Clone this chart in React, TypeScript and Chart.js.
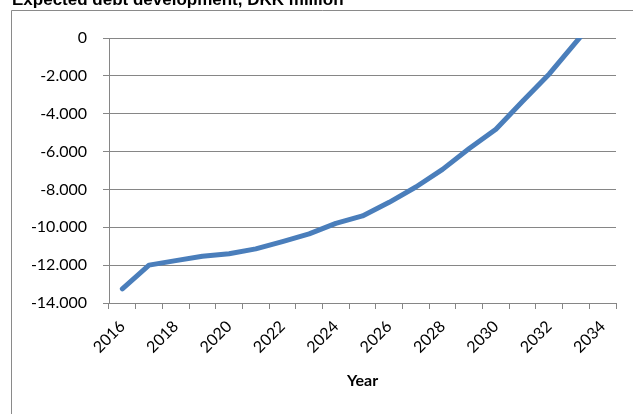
import React, { useEffect, useRef } from "react";
import { Chart, registerables } from "chart.js";

Chart.register(...registerables);

// Expected debt development (DKK million), by year
const years = [
  "2016", "2017", "2018", "2019", "2020", "2021", "2022", "2023", "2024", "2025",
  "2026", "2027", "2028", "2029", "2030", "2031", "2032", "2033", "2034",
];
const debt = [
  -13250, -12000, -11760, -11530, -11400, -11140, -10760, -10350, -9790, -9400,
  -8680, -7870, -6940, -5840, -4820, -3340, -1900, -220, 1450,
];
const yMin = -14000;
const yMax = 0;
const yStep = 2000;

const chartTitle = "Expected debt development, DKK million";
const xTitle = "Year";

const W = 633;
const H = 414;
const gridColor = "#868686";
const lineColor = "#4a7ebb";
const labelFont = "Lato";

// Danish-style thousands grouping: -12.000
function formatThousands(v: number): string {
  const sign = v < 0 ? "-" : "";
  const s = String(Math.abs(Math.round(v)));
  return sign + s.replace(/\B(?=(\d{3})+(?!\d))/g, ".");
}

// Outer frame and the chart heading, drawn behind the plot
const framePlugin = {
  id: "frameAndHeading",
  beforeDraw(chart: Chart) {
    const ctx = chart.ctx;
    ctx.save();
    ctx.fillStyle = "#ffffff";
    ctx.fillRect(0, 0, W, H);
    ctx.strokeStyle = "#8a8a8a";
    ctx.lineWidth = 1;
    ctx.beginPath();
    ctx.moveTo(11.5, H + 2);
    ctx.lineTo(11.5, 10.5);
    ctx.lineTo(W + 2, 10.5);
    ctx.stroke();
    ctx.fillStyle = "#000000";
    ctx.font = 'bold 17px "Liberation Sans", Arial, sans-serif';
    ctx.textAlign = "left";
    ctx.textBaseline = "alphabetic";
    ctx.fillText(chartTitle, 12, 5);
    ctx.restore();
  },
};

export default function App() {
  const canvasRef = useRef<HTMLCanvasElement | null>(null);

  useEffect(() => {
    const canvas = canvasRef.current;
    if (!canvas) return;
    const chart = new Chart(canvas, {
      type: "line",
      data: {
        labels: years,
        datasets: [
          {
            label: chartTitle,
            data: debt,
            borderColor: lineColor,
            backgroundColor: lineColor,
            borderWidth: 5,
            pointRadius: 0,
            pointHoverRadius: 0,
            tension: 0,
            borderCapStyle: "round",
            borderJoinStyle: "round",
            clip: 0,
          },
        ],
      },
      options: {
        responsive: false,
        animation: false,
        devicePixelRatio: 1,
        layout: { padding: { left: 0, right: 17, top: 38, bottom: 0 } },
        plugins: {
          legend: { display: false },
          title: { display: false },
          tooltip: { enabled: false },
        },
        scales: {
          x: {
            type: "category",
            offset: true,
            grid: {
              offset: true,
              drawOnChartArea: false,
              drawTicks: true,
              tickLength: 6,
              color: gridColor,
              lineWidth: 1,
            },
            border: { display: true, color: gridColor, width: 1 },
            ticks: {
              autoSkip: false,
              maxRotation: 45,
              minRotation: 45,
              padding: 8,
              color: "#000000",
              font: { family: labelFont, size: 16 },
              callback: (_v: unknown, i: number) => (i % 2 === 0 ? years[i] : ""),
            },
            title: {
              display: true,
              text: xTitle,
              color: "#000000",
              font: { family: labelFont, size: 16, weight: "bold" },
              padding: { top: 0, bottom: 24 },
            },
            afterFit: (scale: any) => {
              scale.height = 111;
            },
          },
          y: {
            min: yMin,
            max: yMax,
            grid: {
              color: gridColor,
              lineWidth: 1,
              tickLength: 6,
            },
            border: { display: true, color: gridColor, width: 1 },
            ticks: {
              stepSize: yStep,
              padding: 16,
              color: "#000000",
              font: { family: labelFont, size: 16 },
              callback: (v: number | string) => formatThousands(Number(v)),
            },
            afterFit: (scale: any) => {
              scale.width = 109;
            },
          },
        },
      },
      plugins: [framePlugin],
    });
    return () => chart.destroy();
  }, []);

  return (
    <div
      style={{
        position: "fixed",
        left: 0,
        top: 0,
        width: W,
        height: H,
        overflow: "hidden",
        background: "#ffffff",
      }}
    >
      <canvas ref={canvasRef} width={W} height={H} style={{ display: "block" }} />
    </div>
  );
}
